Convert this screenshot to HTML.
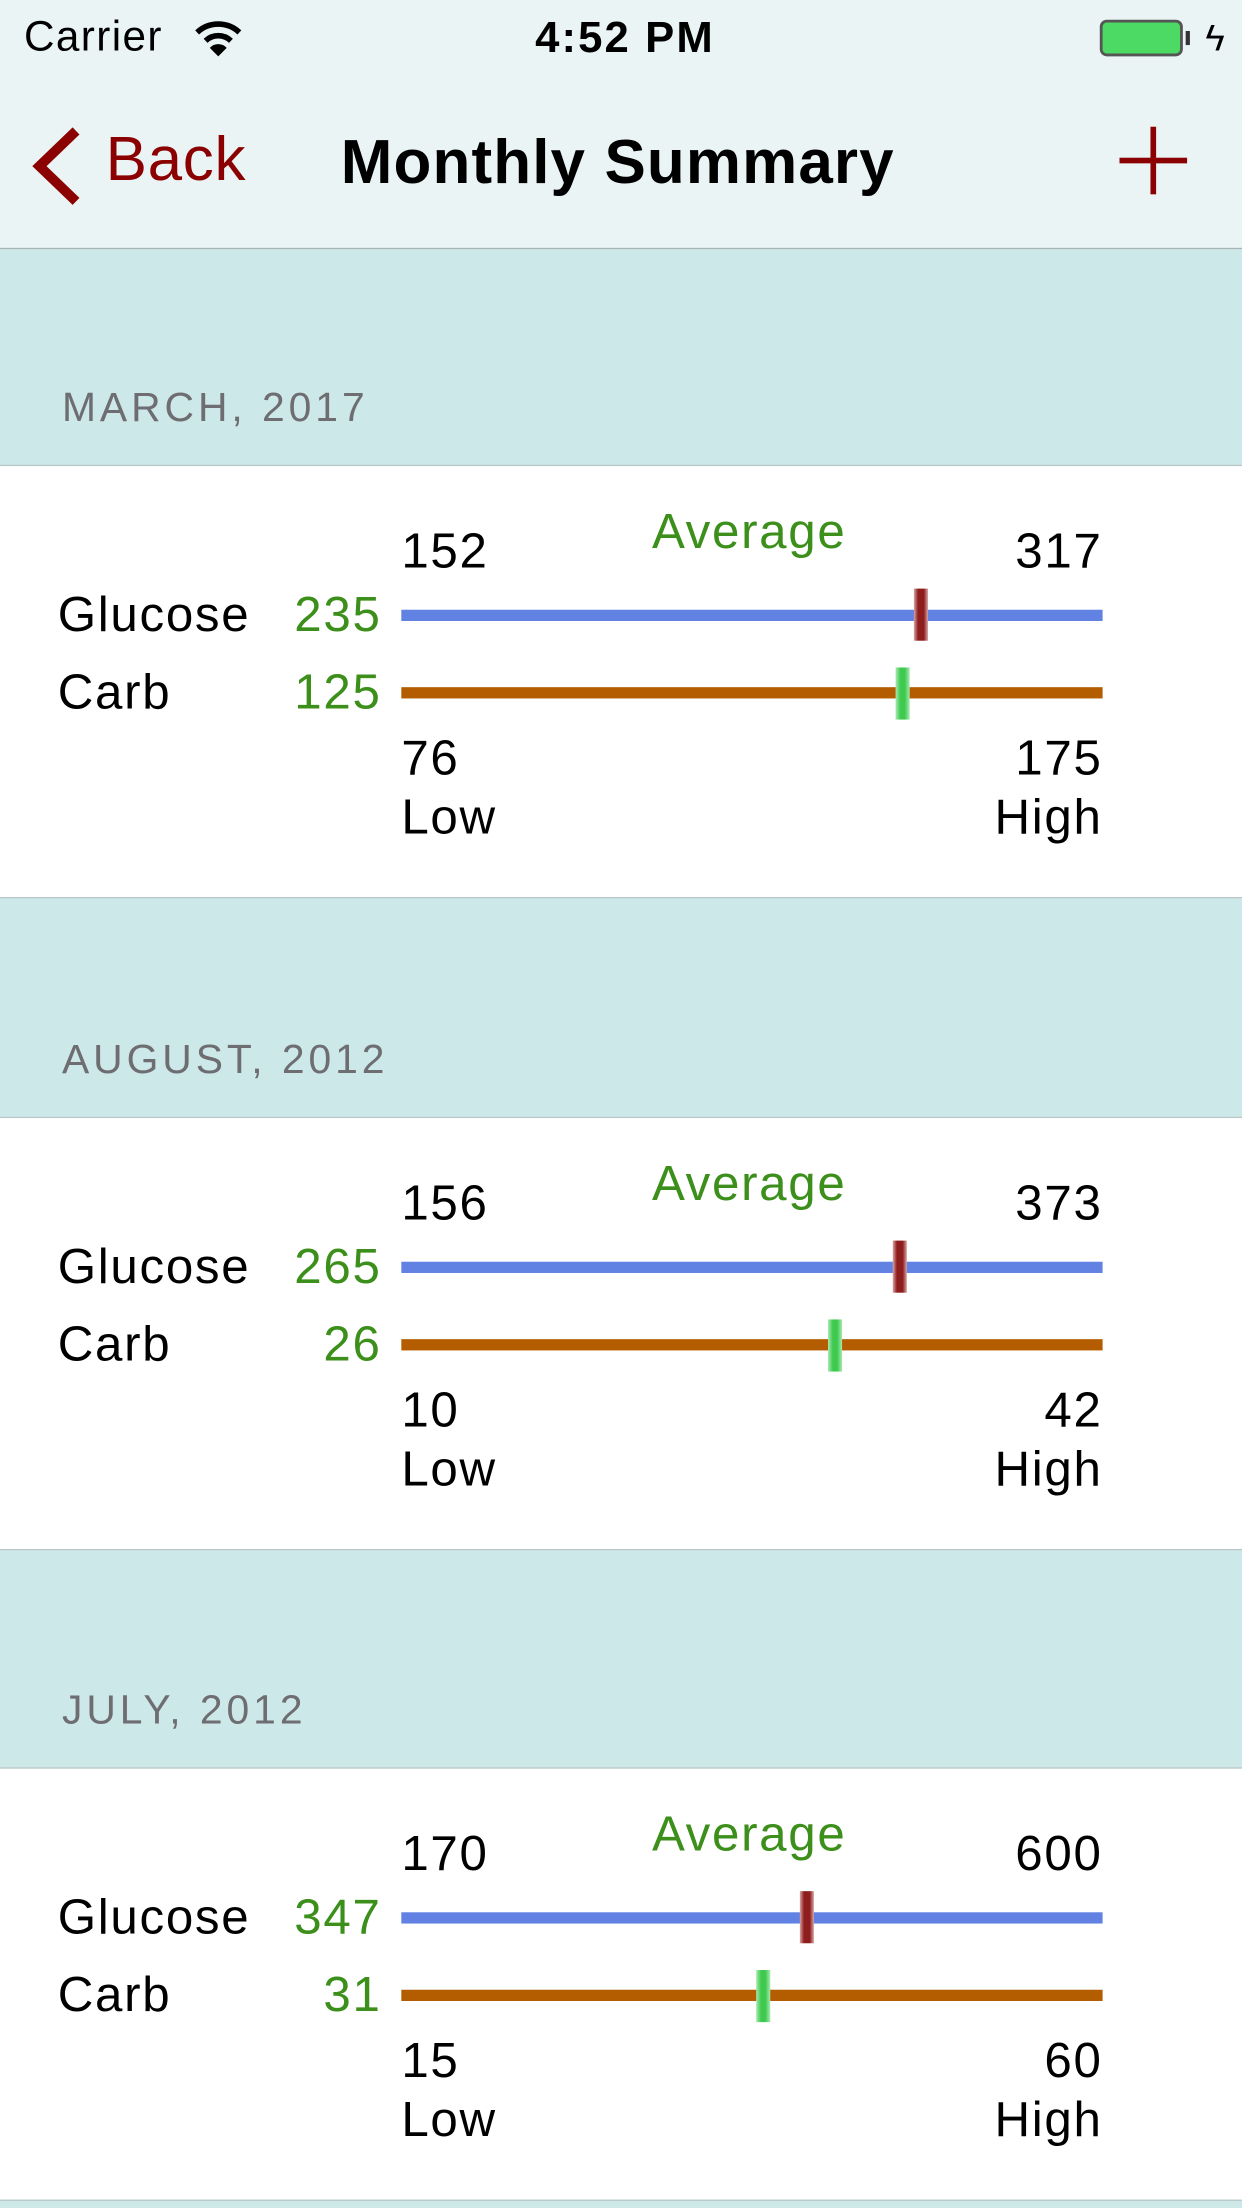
<!DOCTYPE html>
<html><head><meta charset="utf-8"><style>
html,body{margin:0;padding:0;width:1242px;height:2208px;overflow:hidden;background:#cde8e8}
#root{position:absolute;left:0;top:0;width:882px;height:1568px;transform:scale(1.408163);transform-origin:0 0;font-family:"Liberation Sans",Arial,sans-serif;background:#cde8e8}
.abs{position:absolute;white-space:nowrap}
.nav{position:absolute;left:0;top:0;width:882px;height:176px;background:#eaf4f4;border-bottom:1px solid #a9b4b4}
.hdr{position:absolute;left:0;width:882px;height:153px;background:#cde8e8}
.hdr span{position:absolute;left:44px;top:97px;font-size:29px;color:#6d6d72;letter-spacing:2.8px}
.row{position:absolute;left:0;width:882px;height:306px;background:#fff;border-top:1px solid #b8c8c8;border-bottom:1px solid #b8c8c8}
.t{position:absolute;font-size:35px;color:#000;line-height:1;white-space:nowrap;letter-spacing:1.2px}
.g{color:#3b8f1a}
.bar{position:absolute;left:285px;width:498px;height:8px}
.mk{position:absolute;width:10px;height:37px;margin-left:-5px}
</style></head><body>
<div id="root">
<div class="nav">
 <div class="abs" style="left:17px;top:10px;font-size:30px;letter-spacing:1px">Carrier</div>
 <svg class="abs" style="left:138px;top:13px" width="34" height="28" viewBox="0 0 34 28"><path d="M2 10 A22 22 0 0 1 32 10" stroke="#000" stroke-width="4" fill="none"/><path d="M8 16 A13 13 0 0 1 26 16" stroke="#000" stroke-width="4" fill="none"/><path d="M11 21 L17 27 L23 21 A8 8 0 0 0 11 21Z" fill="#000"/></svg>
 <div class="abs" style="left:380px;top:9px;font-size:31px;font-weight:bold;letter-spacing:1.5px">4:52 PM</div>
 <div class="abs" style="left:781px;top:14px;width:59px;height:26px;border:2px solid #555;border-radius:5px;background:#4cd964;box-sizing:border-box"></div>
 <div class="abs" style="left:842px;top:22px;width:3px;height:10px;background:#333"></div>
 <div class="abs" style="left:856px;top:12px;font-size:26px">ϟ</div>
 <svg class="abs" style="left:20px;top:90px" width="40" height="56" viewBox="0 0 40 56"><path d="M34 3 L8 28 L34 53" stroke="#8b0000" stroke-width="7" fill="none"/></svg>
 <div class="abs" style="left:75px;top:89px;font-size:44px;color:#8b0000;letter-spacing:0.5px">Back</div>
 <div class="abs" style="left:242px;top:91px;font-size:44px;font-weight:bold;letter-spacing:0.8px">Monthly Summary</div>
 <div class="abs" style="left:795px;top:90px;width:48px;height:48px">
  <div class="abs" style="left:0;top:22px;width:48px;height:4px;background:#8b0000"></div>
  <div class="abs" style="left:22px;top:0;width:4px;height:48px;background:#8b0000"></div>
 </div>
</div>
<div id="sections"></div>
</div>
<script>
const months=["MARCH, 2017","AUGUST, 2012","JULY, 2012"];
const glucoseAvg=[235,265,347];
const glucoseLow=[152,156,170];
const glucoseHigh=[317,373,600];
const carbAvg=[125,26,31];
const carbLow=[76,10,15];
const carbHigh=[175,42,60];
const BAR_X=285, BAR_W=498;
function xScale(v,high){return BAR_X+BAR_W*v/high;}
const root=document.getElementById('sections');
function mk(tag,cls,style,text){const e=document.createElement(tag);if(cls)e.className=cls;if(style)e.style.cssText=style;if(text!=null)e.textContent=text;return e;}
months.forEach((m,i)=>{
 const top=177+i*462.5;
 const h=mk('div','hdr','top:'+top+'px');
 
 
 const s=mk('span',null,null,m);
 
 
 h.appendChild(s);root.appendChild(h);
 const r=mk('div','row','top:'+(top+153)+'px');
 
 
 root.appendChild(r);
 const add=(el,name)=>{r.appendChild(el);};
 add(mk('div','t g','left:463px;top:29px','Average'),'average-label');
 add(mk('div','t','left:285px;top:43px',glucoseLow[i]),'glucose-low-value');
 add(mk('div','t','right:'+(882-783)+'px;top:43px',glucoseHigh[i]),'glucose-high-value');
 add(mk('div','t','left:41px;top:88px','Glucose'),'glucose-label');
 add(mk('div','t g','right:'+(882-271)+'px;top:88px',glucoseAvg[i]),'glucose-average');
 add(mk('div','bar','top:102px;background:#6181e3'),'glucose-range-bar');
 add(mk('div','mk','left:'+xScale(glucoseAvg[i],glucoseHigh[i])+'px;top:87px;background:linear-gradient(90deg,#d9a6a6,#8e1d1d 30%,#8e1d1d 70%,#d9a6a6)'),'glucose-average-marker');
 add(mk('div','t','left:41px;top:143px','Carb'),'carb-label');
 add(mk('div','t g','right:'+(882-271)+'px;top:143px',carbAvg[i]),'carb-average');
 add(mk('div','bar','top:157px;background:#b35c00'),'carb-range-bar');
 add(mk('div','mk','left:'+xScale(carbAvg[i],carbHigh[i])+'px;top:143px;background:linear-gradient(90deg,#a8eab0,#3ec94f 35%,#3ec94f 65%,#a8eab0)'),'carb-average-marker');
 add(mk('div','t','left:285px;top:190px',carbLow[i]),'carb-low-value');
 add(mk('div','t','right:'+(882-783)+'px;top:190px',carbHigh[i]),'carb-high-value');
 add(mk('div','t','left:285px;top:232px','Low'),'low-label');
 add(mk('div','t','right:'+(882-783)+'px;top:232px','High'),'high-label');
});
</script>
</body></html>
